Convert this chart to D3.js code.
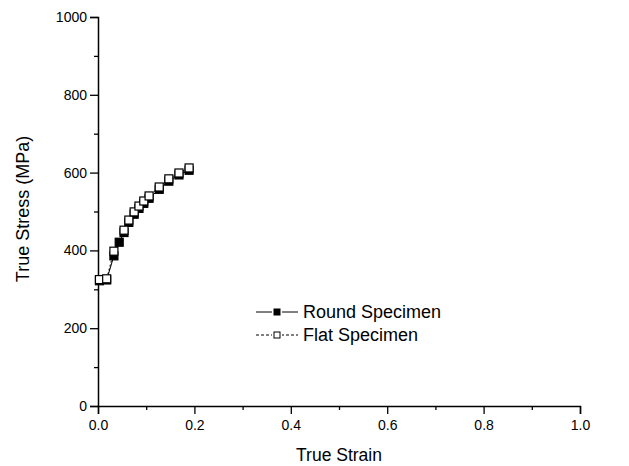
<!DOCTYPE html>
<html><head><meta charset="utf-8">
<script src="https://cdn.jsdelivr.net/npm/d3@7"></script>
<style>body{margin:0;background:#fff}svg{display:block}text{font-family:Arial,"Liberation Sans",sans-serif;fill:#000}</style>
</head><body><svg id="c" width="629" height="466"></svg>
<script>
const roundStrain = [0.003, 0.018, 0.033, 0.044, 0.054, 0.064, 0.075, 0.085, 0.095, 0.106, 0.127, 0.147, 0.168, 0.189];
const roundStress = [322, 324, 386, 421, 446, 472, 493, 508, 521, 534, 557, 578, 594, 606];
const flatStrain = [0.003, 0.018, 0.033, 0.054, 0.064, 0.075, 0.085, 0.095, 0.106, 0.127, 0.147, 0.168, 0.189];
const flatStress = [325, 327, 398, 452, 478, 499, 514, 527, 540, 563, 584, 599, 612];
const xTicks = [0, 0.2, 0.4, 0.6, 0.8, 1.0];
const yTicks = [0, 200, 400, 600, 800, 1000];
const seriesNames = ["Round Specimen", "Flat Specimen"];

const svg = d3.select("#c");
const x = d3.scaleLinear().domain([0, 1]).range([98, 580]);
const y = d3.scaleLinear().domain([0, 1000]).range([406, 17]);

// axes
const xAxis = svg.append("g").attr("transform", "translate(0,406)")
  .call(d3.axisBottom(x).tickValues(xTicks).tickFormat(d3.format(".1f")).tickSize(8).tickPadding(6));
const xMinor = svg.append("g").attr("transform", "translate(0,406)")
  .call(d3.axisBottom(x).tickValues(d3.range(0.1, 1, 0.2)).tickFormat("").tickSize(4));
const yAxis = svg.append("g").attr("transform", "translate(98,0)")
  .call(d3.axisLeft(y).tickValues(yTicks).tickFormat(d3.format("d")).tickSize(8).tickPadding(3));
const yMinor = svg.append("g").attr("transform", "translate(98,0)")
  .call(d3.axisLeft(y).tickValues(d3.range(100, 1000, 200)).tickFormat("").tickSize(4));
[xAxis, xMinor, yAxis, yMinor].forEach(g => {
  g.selectAll("path").attr("stroke", "#000").attr("stroke-width", 1.5);
  g.selectAll("line").attr("stroke", "#000").attr("stroke-width", 1.3);
  g.selectAll("text").style("font-size", "14px").attr("fill", "#000");
});
xMinor.select("path").remove();
yMinor.select("path").remove();

svg.append("text").attr("x", 339).attr("y", 461).attr("text-anchor", "middle")
  .style("font-size", "17.5px").text("True Strain");
svg.append("text").attr("transform", "translate(29,209) rotate(-90)").attr("text-anchor", "middle")
  .style("font-size", "18px").text("True Stress (MPa)");

// data
const roundData = roundStrain.map((s, i) => [s, roundStress[i]]);
const flatData = flatStrain.map((s, i) => [s, flatStress[i]]);
const line = d3.line().x(d => x(d[0])).y(d => y(d[1]));
const plot = svg.append("g");
plot.append("path").datum(roundData).attr("d", line).attr("fill", "none").attr("stroke", "#000").attr("stroke-width", 1);
plot.append("path").datum(flatData).attr("d", line).attr("fill", "none").attr("stroke", "#000").attr("stroke-width", 1).attr("stroke-dasharray", "2,2");
const ms = 8;
plot.selectAll("rect.r").data(roundData).enter().append("rect")
  .attr("x", d => x(d[0]) - ms / 2).attr("y", d => y(d[1]) - ms / 2)
  .attr("width", ms).attr("height", ms).attr("fill", "#000").attr("stroke", "#000").attr("stroke-width", 1.2);
plot.selectAll("rect.f").data(flatData).enter().append("rect")
  .attr("x", d => x(d[0]) - ms / 2).attr("y", d => y(d[1]) - ms / 2)
  .attr("width", ms).attr("height", ms).attr("fill", "#fff").attr("stroke", "#000").attr("stroke-width", 1.2);

// legend
const leg = svg.append("g");
seriesNames.forEach((name, i) => {
  const ly = 312 + i * 23;
  const g = leg.append("g");
  g.append("line").attr("x1", 256).attr("x2", 298).attr("y1", ly).attr("y2", ly)
    .attr("stroke", "#000").attr("stroke-width", 1).attr("stroke-dasharray", i ? "3,2" : null);
  g.append("rect").attr("x", 272).attr("y", ly - 5).attr("width", 10).attr("height", 10)
    .attr("fill", "#fff");
  g.append("rect").attr("x", 274).attr("y", ly - 3).attr("width", 6).attr("height", 6)
    .attr("fill", i ? "#fff" : "#000").attr("stroke", "#000").attr("stroke-width", 1);
  g.append("text").attr("x", 303).attr("y", ly + 6).style("font-size", "18px").text(name);
});
</script></body></html>
